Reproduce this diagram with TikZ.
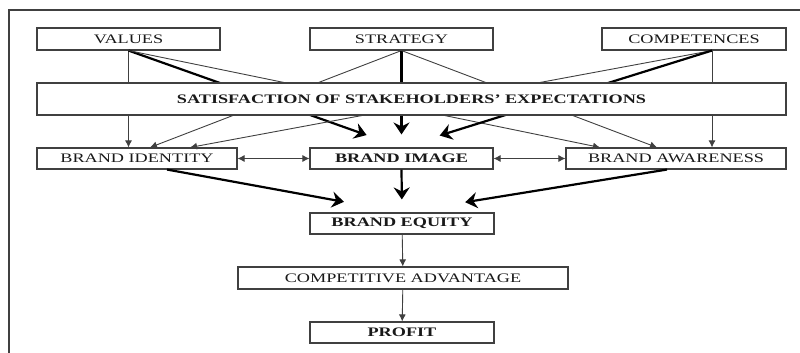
\documentclass[tikz,border=0pt]{standalone}
\usepackage{fontspec}
\setmainfont{Liberation Serif}[FakeStretch=1.4]
\usetikzlibrary{arrows,arrows.meta,calc}
\tikzset{>=latex}

\begin{document}
\begin{tikzpicture}[x=1pt,y=1pt]
                        % top row -> satisfaction -> brand row -> equity -> advantage -> profit
                        \tikzstyle{every node}=[draw=black!75, line width=1.1pt, fill=white, inner sep=0pt, text=black!90, font=\fontsize{13}{15}\selectfont]
                        \tikzstyle{light}=[draw=black!75, line width=0.9pt, -{Latex[length=7pt,width=7pt]}]
                        \tikzstyle{both}=[draw=black!75, line width=0.9pt, {Latex[length=7pt,width=7pt]}-{Latex[length=7pt,width=7pt]}]
                        \tikzstyle{heavy}=[draw=black, line width=2.2pt, -{Stealth[length=12pt,width=16pt,inset=4pt]}]
                        \useasboundingbox (0,0) rectangle (800,353);
                        \draw[black!75, line width=1.3pt] (9,0) -- (9,343) -- (800,343);

                        \node[minimum width=183pt, minimum height=22pt] (V) at (128.5,314) {VALUES};
                        \node[minimum width=183pt, minimum height=22pt] (S) at (401.5,314) {STRATEGY};
                        \node[minimum width=184pt, minimum height=22pt] (C) at (694,314) {COMPETENCES};

                        \node[minimum width=200pt, minimum height=21pt] (BI) at (137,194.5) {BRAND IDENTITY};
                        \node[minimum width=183pt, minimum height=21pt] (IM) at (401.5,194.5) {\textbf{BRAND IMAGE}};
                        \node[minimum width=220pt, minimum height=21pt] (AW) at (676,194.5) {BRAND AWARENESS};

                        \node[minimum width=184pt, minimum height=21pt] (EQ) at (402,129.5) {\textbf{BRAND EQUITY}};
                        \node[minimum width=330pt, minimum height=22pt] (CA) at (403,75) {COMPETITIVE ADVANTAGE};
                        \node[minimum width=184pt, minimum height=21pt] (P) at (402,20.5) {\textbf{PROFIT}};

                        \coordinate (v) at (V.south);
                        \coordinate (s) at (S.south);
                        \coordinate (c) at ($(C.south)+(18,0)$);

                        \draw[light] (v) -- (v |- BI.north);
                        \draw[heavy, shorten >=37pt] (v) -- (IM.north);
                        \draw[light] (v) -- ($(AW.north)+(-76,0)$);

                        \draw[light] (s) -- ($(BI.north)+(13,0)$);
                        \draw[heavy, shorten >=13pt] (s) -- (IM.north);
                        \draw[light] (s) -- ($(AW.north)+(-19,0)$);

                        \draw[light] (c) -- ($(BI.north)+(53,0)$);
                        \draw[heavy, shorten >=40pt] (c) -- (IM.north);
                        \draw[light] (c) -- (c |- AW.north);

                        \node[minimum width=749pt, minimum height=32pt] (SE) at (411.5,254) {\textbf{SATISFACTION OF STAKEHOLDERS' EXPECTATIONS}};

                        \draw[both] (BI) -- (IM);
                        \draw[both] (IM) -- (AW);

                        \draw[heavy, shorten >=59pt] ($(BI.south)+(30,0)$) -- (EQ.north);
                        \draw[heavy, shorten >=13pt] (IM.south) -- (EQ.north);
                        \draw[heavy, shorten >=64pt] ($(AW.south)+(-9,0)$) -- (EQ.north);

                        \draw[light] (EQ) -- (CA);
                        \draw[light] (CA) -- (P);
                \end{tikzpicture}
\end{document}
